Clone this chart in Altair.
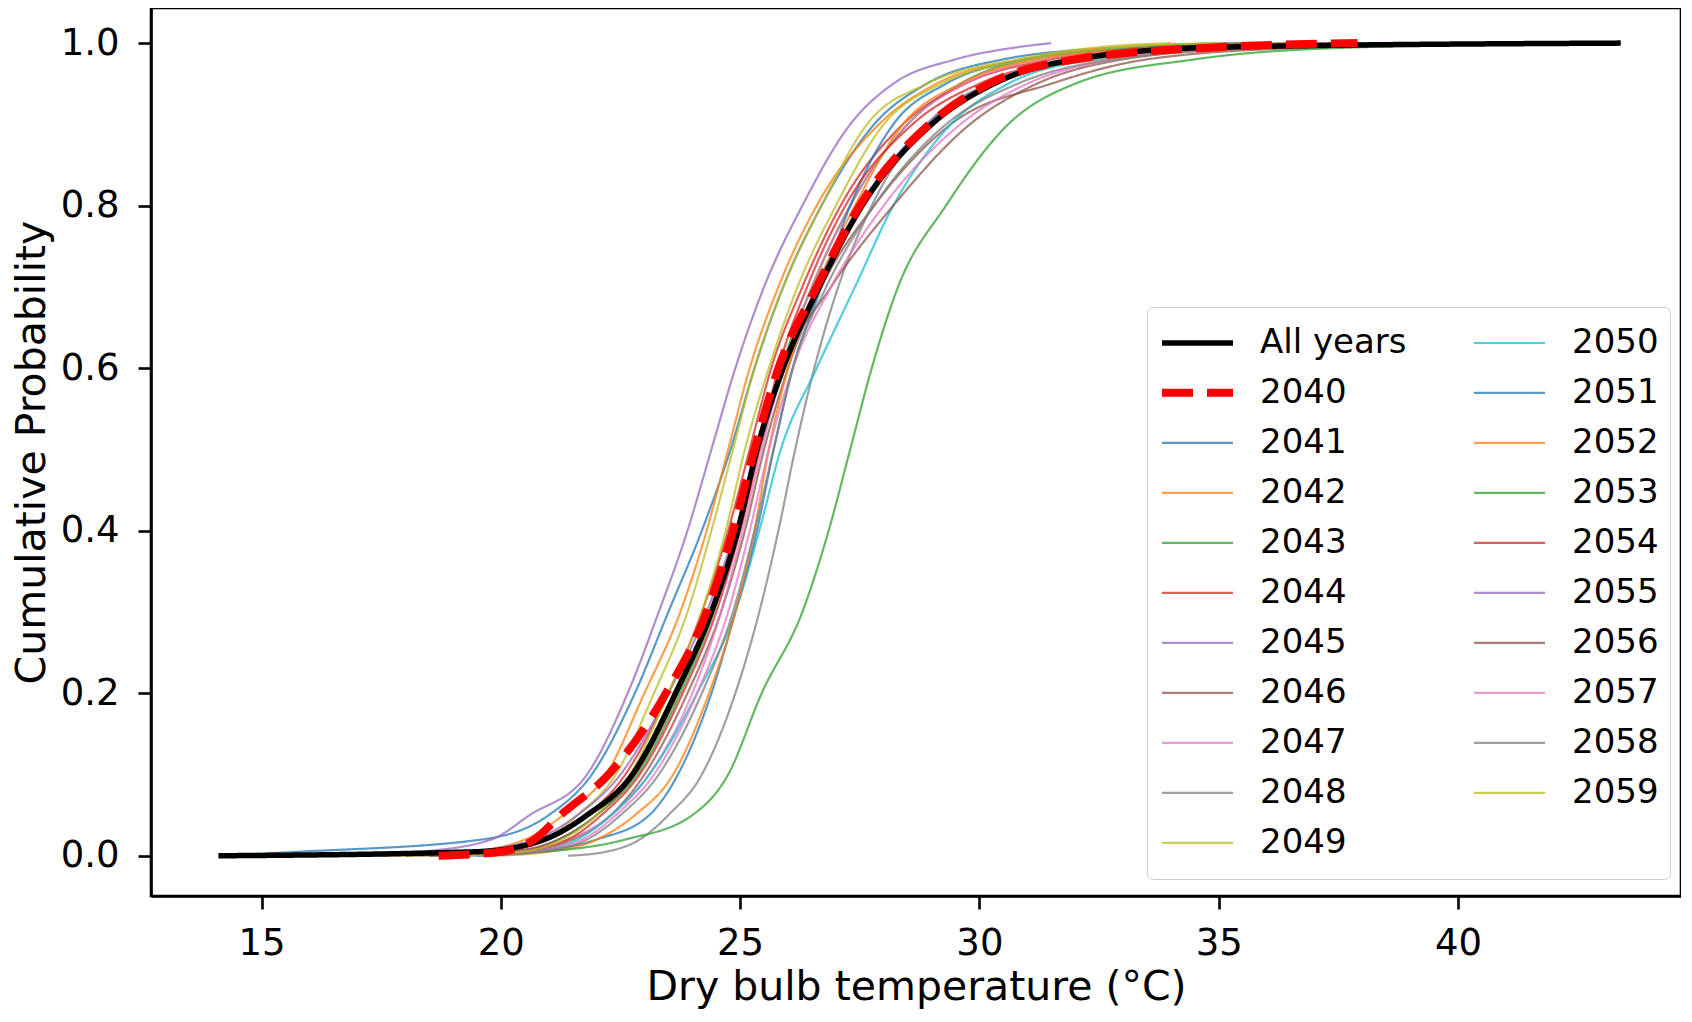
import altair as alt
import pandas as pd

# cumulative probability levels shared by every series
prob_levels = [0.0, 0.005, 0.02, 0.05, 0.1, 0.2, 0.3, 0.4, 0.5, 0.6, 0.7, 0.8, 0.9, 0.95, 0.98, 0.995, 1.0]

# dry bulb temperature (°C) reached at each probability level
t_all = [14.1, 19.5, 20.9, 21.8, 22.75, 23.65, 24.4, 24.95, 25.35, 25.9, 26.65, 27.55, 29.0, 30.3, 32.0, 35.0, 43.4]
t_2040 = [18.7, 20.0, 20.7, 21.25, 22.25, 23.45, 24.3, 24.85, 25.3, 25.8, 26.6, 27.5, 28.95, 30.2, 32.0, 35.0, 37.9]
t_2041 = [14.1, 15.8, 19.6, 21.0, 21.9, 22.8, 23.5, 24.2, 24.8, 25.3, 25.9, 26.7, 27.8, 28.9, 30.5, 33.0, 35.5]
t_2042 = [17.5, 19.3, 20.5, 21.3, 22.2, 23.0, 23.75, 24.3, 24.75, 25.2, 25.8, 26.6, 27.9, 29.1, 30.9, 33.0, 35.5]
t_2043 = [18.5, 20.3, 21.2, 22.0, 22.85, 23.75, 24.45, 24.95, 25.35, 25.85, 26.5, 27.3, 28.5, 29.6, 31.0, 33.5, 36.5]
t_2044 = [18.0, 19.8, 21.0, 21.8, 22.6, 23.5, 24.2, 24.75, 25.2, 25.65, 26.3, 27.1, 28.4, 29.7, 31.5, 34.0, 38.0]
t_2045 = [16.5, 18.3, 19.8, 20.6, 21.8, 22.65, 23.3, 23.9, 24.4, 24.9, 25.5, 26.3, 27.3, 28.2, 29.5, 30.8, 31.5]
t_2046 = [19.0, 20.5, 21.5, 22.3, 23.0, 23.9, 24.6, 25.1, 25.5, 26.0, 26.7, 27.8, 29.4, 31.5, 33.5, 37.0, 41.0]
t_2047 = [18.0, 20.0, 21.4, 22.3, 23.1, 24.0, 24.6, 25.05, 25.45, 25.9, 26.5, 27.3, 28.5, 29.7, 31.3, 34.0, 37.5]
t_2048 = [21.4, 22.2, 22.9, 23.5, 24.2, 24.9, 25.4, 25.8, 26.15, 26.55, 27.05, 27.75, 28.9, 30.2, 32.5, 36.0, 42.5]
t_2049 = [18.0, 19.8, 20.9, 21.6, 22.4, 23.2, 23.9, 24.4, 24.85, 25.3, 25.9, 26.7, 27.65, 28.9, 30.8, 32.5, 34.0]
t_2050 = [19.5, 20.7, 21.6, 22.3, 23.1, 24.1, 24.9, 25.4, 25.85, 26.6, 27.4, 28.2, 29.4, 30.6, 32.3, 35.0, 39.0]
t_2051 = [19.0, 20.6, 22.0, 23.1, 23.7, 24.4, 24.9, 25.35, 25.7, 26.1, 26.7, 27.3, 28.2, 29.3, 31.0, 33.5, 36.0]
t_2052 = [19.8, 21.0, 22.0, 22.8, 23.6, 24.35, 24.9, 25.3, 25.6, 26.0, 26.6, 27.4, 28.4, 29.6, 31.2, 34.0, 37.0]
t_2053 = [19.0, 20.9, 22.6, 24.0, 24.75, 25.45, 26.3, 26.85, 27.3, 27.75, 28.3, 29.3, 30.6, 32.0, 34.5, 38.0, 43.4]
t_2054 = [18.8, 20.3, 21.4, 22.1, 22.9, 23.8, 24.5, 25.0, 25.4, 25.8, 26.4, 27.2, 28.6, 30.0, 32.0, 35.0, 39.5]
t_2055 = [17.0, 19.2, 20.7, 21.6, 22.5, 23.5, 24.3, 24.9, 25.4, 25.9, 26.6, 27.5, 28.9, 30.2, 31.8, 34.5, 38.0]
t_2056 = [18.5, 20.2, 21.2, 22.0, 22.8, 23.7, 24.4, 24.95, 25.4, 25.9, 26.9, 28.2, 29.8, 31.2, 33.0, 36.0, 40.0]
t_2057 = [18.8, 20.6, 21.7, 22.4, 23.2, 24.1, 24.75, 25.2, 25.6, 26.1, 26.9, 28.0, 29.6, 31.0, 32.8, 35.5, 39.0]
t_2058 = [19.5, 20.8, 21.8, 22.5, 23.3, 24.2, 24.85, 25.3, 25.7, 26.1, 26.8, 27.8, 29.3, 30.8, 32.8, 36.5, 43.0]
t_2059 = [18.8, 20.4, 21.3, 22.0, 22.7, 23.5, 24.2, 24.7, 25.1, 25.6, 26.2, 27.0, 28.0, 29.2, 31.0, 33.0, 35.0]

year_names = [str(y) for y in range(2041, 2060)]
year_temps = [t_2041, t_2042, t_2043, t_2044, t_2045, t_2046, t_2047, t_2048, t_2049, t_2050,
              t_2051, t_2052, t_2053, t_2054, t_2055, t_2056, t_2057, t_2058, t_2059]
tab10 = ["#1f77b4", "#ff7f0e", "#2ca02c", "#d62728", "#9467bd",
         "#8c564b", "#e377c2", "#7f7f7f", "#bcbd22", "#17becf"]

# drawing order: thin yearly lines, then all years, then 2040 on top
series_names = year_names + ["All years", "2040"]
series_temps = year_temps + [t_all, t_2040]

rows = []
for name, temps in zip(series_names, series_temps):
    for i, (t, p) in enumerate(zip(temps, prob_levels)):
        rows.append({"series": name, "temp": t, "prob": p, "idx": i})
df = pd.DataFrame(rows)

style = {"All years": ("#000000", 5.5, [1, 0], 1.0), "2040": ("#ff0000", 8.0, [31, 14], 1.0)}
for i, name in enumerate(year_names):
    style[name] = (tab10[i % 10], 2.2, [1, 0], 0.75)

# legend fills column by column: 11 rows in the first column, 10 in the second
legend_order = ["All years", "2040"] + year_names

color_range = [style[n][0] for n in legend_order]
width_range = [style[n][1] for n in legend_order]
dash_range = [style[n][2] for n in legend_order]
opac_range = [style[n][3] for n in legend_order]

FONT = "DejaVu Sans"

leg = alt.Legend(
    title=None, orient="none", legendX=996, legendY=299, columns=2,
    symbolType="stroke", symbolSize=5041, labelFontSize=34, labelFont=FONT,
    labelColor="black", labelOffset=23, columnPadding=63, rowPadding=0,
    clipHeight=49.7, padding=11, fillColor="white", strokeColor="#cccccc",
    cornerRadius=6,
)

chart = alt.Chart(df).mark_line(interpolate="monotone", clip=True).encode(
    x=alt.X("temp:Q",
            scale=alt.Scale(domain=[12.69, 44.66], nice=False, zero=False),
            axis=alt.Axis(values=[15, 20, 25, 30, 35, 40], format="d",
                          title="Dry bulb temperature (°C)", grid=False,
                          tickSize=13, tickWidth=2.6, tickColor="black",
                          domainColor="black", domainWidth=2.6,
                          labelFontSize=37, labelPadding=16, labelFlush=False,
                          titleFontSize=41, titlePadding=6, titleFontWeight="normal",
                          labelColor="black", titleColor="black",
                          labelFont=FONT, titleFont=FONT)),
    y=alt.Y("prob:Q",
            scale=alt.Scale(domain=[-0.0495, 1.0432], nice=False, zero=False),
            axis=alt.Axis(values=[0.0, 0.2, 0.4, 0.6, 0.8, 1.0], format=".1f",
                          title="Cumulative Probability", grid=False,
                          tickSize=13, tickWidth=2.6, tickColor="black",
                          domainColor="black", domainWidth=2.6,
                          labelFontSize=37, labelPadding=19, labelFlush=False,
                          titleFontSize=41, titlePadding=7, titleFontWeight="normal",
                          labelColor="black", titleColor="black",
                          labelFont=FONT, titleFont=FONT)),
    color=alt.Color("series:N", scale=alt.Scale(domain=legend_order, range=color_range), legend=leg),
    strokeWidth=alt.StrokeWidth("series:N", scale=alt.Scale(type="ordinal", domain=legend_order, range=width_range), legend=leg),
    strokeDash=alt.StrokeDash("series:N", scale=alt.Scale(domain=legend_order, range=dash_range), legend=leg),
    opacity=alt.Opacity("series:N", scale=alt.Scale(type="ordinal", domain=legend_order, range=opac_range), legend=leg),
    order=alt.Order("idx:Q"),
).properties(
    width=1530, height=888,
    padding={"left": 3, "top": 0, "right": 0, "bottom": 6},
    background="white",
).configure_view(
    stroke="black", strokeWidth=2.6
)

chart.save("out.html", embed_options={"renderer": "svg", "actions": False})
